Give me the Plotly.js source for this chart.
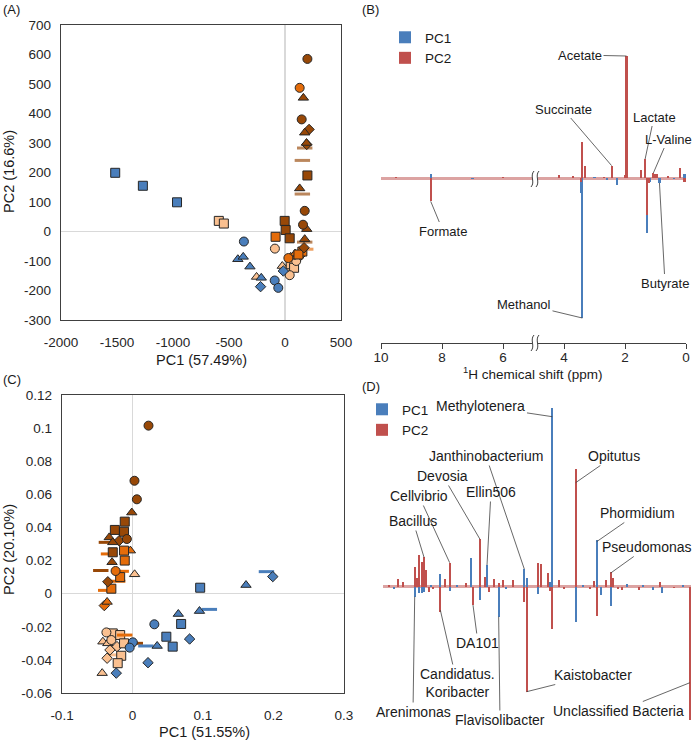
<!DOCTYPE html>
<html>
<head>
<meta charset="utf-8">
<script src="https://cdn.plot.ly/plotly-3.0.1.min.js"></script>
<style>body{margin:0;background:#fff}#plot{width:697px;height:741px}</style>
</head>
<body>
<div id="plot"></div>
<script>
// ---------- (A) NMR metabolite PCA scores ----------
// group: G1 blue, G2 dark brown, G3 orange, G4 peach ; set: S1 circle, S2 square, S3 triangle, S4 diamond, S5 dash
const aPC1 = [-1516, -1269, -964, -591, -546, -367, -92, -60, -421, -373,
              -313, -212, -254, -218, -90, -84, -3, 6, 42, 200,
              131, 164, 149, 176, 215, 194, 192, 176, 155, 155,
              200, 131, 176, 161, 194, 176, 176, 51, 155, 120,
              185, 90, 30, 42, 51, 81, -24, 10, -15, 100,
              140, 170]
const aPC2 = [199, 155, 99, 36, 27, -34, -166, -191, -94, -86,
              -119, -157, -154, -187, -58, -18, 36, 5, -23, 585,
              487, 453, 380, 335, 346, 295, 300, 283, 241, 127,
              190, 146, 70, 23, 8, -26, -36, -86, -68, -78,
              -60, -75, -90, -148, -111, -123, -117, -130, -134, -100,
              -80, -55]
const aGroup = ['G1','G1','G1','G4','G4','G1','G1','G1','G1','G1',
                'G1','G1','G4','G1','G4','G3','G2','G2','G2','G2',
                'G3','G2','G2','G2','G2','G2','G2','G2','G2','G2',
                'G2','G2','G2','G2','G2','G2','G2','G3','G3','G3',
                'G3','G3','G3','G4','G4','G4','G4','G4','G1','G4',
                'G3','G2']
const aSet = ['S2','S2','S2','S2','S2','S1','S1','S1','S3','S3',
              'S3','S3','S3','S4','S1','S2','S2','S2','S2','S1',
              'S1','S3','S1','S3','S4','S4','S3','S5','S5','S5',
              'S2','S3','S1','S1','S3','S3','S5','S3','S2','S2',
              'S5','S3','S1','S1','S2','S2','S3','S4','S4','S1',
              'S4','S4']

// ---------- (C) bacterial community PCA scores ----------
const cPC1 = [0.0227, 0.0028, 0.0062, -0.001, -0.011, -0.025, -0.012, -0.033, -0.028, -0.019,
              -0.008, -0.037, -0.028, -0.034, -0.012, -0.011, -0.003, -0.029, -0.045, -0.024,
              -0.0175, -0.016, -0.021, -0.035, -0.030, -0.038, 0.003, -0.040, -0.036, 0.096,
              0.161, 0.199, 0.19, 0.065, 0.095, 0.109, 0.031, 0.069, 0.048, 0.057,
              0.081, 0.035, 0.019, 0.004, 0.0005, -0.004, 0.022, -0.023, -0.037, -0.028,
              -0.0175, -0.042, -0.030, -0.022, -0.032, -0.011, -0.016, -0.021, -0.036, -0.026,
              -0.043, -0.035, -0.012]
const cPC2 = [0.1015, 0.0682, 0.057, 0.049, 0.0435, 0.0385, 0.0374, 0.034, 0.031, 0.032,
              0.033, 0.031, 0.025, 0.024, 0.026, 0.020, 0.026, 0.019, 0.014, 0.0137,
              0.010, 0.0135, 0.0075, 0.0072, 0.003, 0.002, 0.0117, -0.0072, -0.005, 0.0036,
              0.0052, 0.0103, 0.0133, -0.0123, -0.0105, -0.0095, -0.0185, -0.0183, -0.026, -0.032,
              -0.0274, -0.0316, -0.0316, -0.030, -0.0294, -0.0326, -0.0417, -0.048, -0.0234, -0.024,
              -0.025, -0.029, -0.028, -0.032, -0.034, -0.025, -0.0375, -0.042, -0.039, -0.037,
              -0.048, -0.030, -0.030]
const cGroup = ['G2','G2','G2','G2','G2','G2','G2','G2','G2','G2',
                'G2','G2','G2','G3','G3','G3','G3','G2','G2','G3',
                'G3','G3','G3','G2','G3','G3','G4','G3','G3','G1',
                'G1','G1','G1','G1','G1','G1','G1','G1','G1','G1',
                'G1','G1','G1','G2','G1','G1','G1','G1','G4','G4',
                'G4','G4','G4','G4','G4','G3','G4','G4','G4','G4',
                'G4','G4','G4']
const cSet = ['S1','S1','S1','S3','S2','S2','S2','S3','S3','S4',
              'S1','S5','S2','S5','S2','S2','S3','S3','S5','S1',
              'S2','S5','S5','S4','S2','S5','S3','S4','S3','S2',
              'S3','S4','S5','S3','S3','S5','S1','S2','S2','S2',
              'S4','S3','S5','S5','S1','S1','S4','S4','S1','S2',
              'S2','S3','S1','S4','S4','S5','S2','S2','S4','S5',
              'S3','S3','S2']

// ---------- (B) NMR loadings (ppm) ----------
const bShift = [9.5, 8.37, 7.0, 6.0, 4.15, 3.7, 3.44, 3.40, 3.30, 3.0,
                2.7, 2.6, 2.44, 2.27, 2.0, 1.95, 1.48, 1.34, 1.29, 1.22,
                1.18, 1.07, 1.02, 0.95, 0.87, 0.6, 0.4, 0.2, 0.05]
const bPC1 = [0, 0.02, -0.006, 0, 0, 0, -0.075, -0.70, 0, 0.006,
              0, -0.008, 0, -0.033, 0, 0.005, 0, 0, -0.275, 0,
              -0.02, 0, 0, 0, -0.025, 0, -0.006, 0, 0.02]
const bPC2 = [0.005, -0.117, 0, 0.005, 0.017, 0.008, -0.02, 0.178, 0.058, 0,
              0.006, 0, 0.062, 0, 0.013, 0.61, 0.04, 0.095, -0.183, -0.025,
              0, 0.025, 0.022, 0.018, 0, 0.008, 0, 0.05, -0.02]
const bTickVals = [10, 8, 6, 4, 2, 0]

// ---------- (D) genus loadings (taxon position) ----------
const dPos = [2, 4, 6, 8, 13, 14, 15, 16, 17, 18,
              19, 20, 21, 24, 26, 28, 31, 35, 37, 38,
              41, 43, 44, 45, 47, 49, 51, 52, 55, 60,
              61, 66, 67, 70, 71, 72, 75, 77, 82, 85,
              88, 90, 91, 93, 95, 97, 98, 100, 102, 104,
              109, 111, 115, 118, 119, 124, 128, 131]
const dPC1 = [0, -0.01, 0, 0, -0.05, 0, -0.03, -0.03, -0.025, 0,
              0, 0.01, 0, 0.063, 0, -0.02, 0.01, 0, 0.145, 0,
              -0.067, 0, 0.108, 0, 0, -0.15, 0, -0.01, 0, 0.088,
              0.042, -0.037, 0, 0, 0.022, 0.895, 0, 0, -0.178, 0.01,
              0, 0, 0.233, -0.042, 0, -0.097, 0, 0, 0, 0.012,
              0, 0.008, -0.017, 0, -0.03, 0, 0.008, 0]
const dPC2 = [0.01, 0, 0.037, 0.025, 0.097, 0.042, 0.158, 0.125, 0.147, 0.083,
              -0.025, 0, -0.01, -0.125, 0.037, 0.12, 0, 0.017, 0, -0.092,
              0.237, 0.047, 0, -0.025, 0.037, 0.017, 0.033, 0, 0.033, -0.075,
              -0.525, 0.12, 0.112, 0.07, -0.02, -0.213, 0.033, -0.01, 0.588, 0,
              -0.012, 0.028, -0.147, 0, 0.033, 0.075, 0.042, -0.01, -0.015, 0,
              -0.017, 0, 0, 0.022, 0, -0.008, 0, -0.667]

const aTicksX = [-2000, -1500, -1000, -500, 0, 500]
const aTicksY = [-300, -200, -100, 0, 100, 200, 300, 400, 500, 600, 700]
const cTicksX = [-0.1, 0, 0.1, 0.2, 0.3]
const cTicksY = [-0.06, -0.04, -0.02, 0, 0.02, 0.04, 0.06, 0.08, 0.1, 0.12]

// ---------- styling ----------
const W = 697, H = 741
const fx = p => p / W
const fy = p => 1 - p / H
const COL = {G1: '#4a7ebb', G2: '#984807', G3: '#e46c0a', G4: '#fac090'}
const SYM = {S1: 'circle', S2: 'square', S3: 'triangle-up', S4: 'diamond', S5: 'line-ew'}
const BLUE = '#4a7ebb', RED = '#c0504d'
const FONT = 'Liberation Sans, Arial, sans-serif'

// loading panels: pixel frame used for both axes and label leaders
const PB = {x0: 381, x1: 686, r0: 10, r1: 0, zero: 178, ppu: 200, top: 35, bot: 330}
const PD = {x0: 383.2, x1: 691.1, r0: -0.5, r1: 131.5, zero: 586.7, ppu: 200, top: 400, bot: 725}
const toPx = (P, v) => P.x0 + (v - P.r0) / (P.r1 - P.r0) * (P.x1 - P.x0)
const toPy = (P, v) => P.zero - v * P.ppu

function scoreTraces(pc1, pc2, grp, set, xa, ya, dashOp) {
    let traces = []
    ;['G4', 'G3', 'G2', 'G1'].forEach(g => {
        ;['S5', 'S4', 'S3', 'S2', 'S1'].forEach(s => {
            let x = [], y = []
            for (let i = 0; i < pc1.length; i++) {
                if (grp[i] === g && set[i] === s) { x.push(pc1[i]); y.push(pc2[i]) }
            }
            if (!x.length) return
            let dash = s === 'S5'
            traces.push({
                type: 'scatter', mode: 'markers', x: x, y: y, xaxis: xa, yaxis: ya,
                showlegend: false, hoverinfo: 'skip',
                marker: {
                    symbol: SYM[s], color: COL[g], opacity: dash ? dashOp : 1,
                    size: dash ? 11 : (s === 'S4' ? 8 : 9),
                    line: {color: dash ? COL[g] : '#262626', width: dash ? 3 : 1}
                }
            })
        })
    })
    return traces
}

function barTraces(x, pc1, pc2, xa, ya, w, leg) {
    return [
        {type: 'bar', name: 'PC1', x: x, y: pc1, xaxis: xa, yaxis: ya, width: w,
         marker: {color: BLUE, line: {width: 0}}, legend: leg, hoverinfo: 'skip'},
        {type: 'bar', name: 'PC2', x: x, y: pc2, xaxis: xa, yaxis: ya, width: w,
         marker: {color: RED, line: {width: 0}}, legend: leg, hoverinfo: 'skip'}
    ]
}

let data = []
    .concat(scoreTraces(aPC1, aPC2, aGroup, aSet, 'x', 'y', 0.65))
    .concat(barTraces(bShift, bPC1, bPC2, 'x2', 'y2', 0.07, 'legend'))
    .concat(scoreTraces(cPC1, cPC2, cGroup, cSet, 'x3', 'y3', 1))
    .concat(barTraces(dPos, dPC1, dPC2, 'x4', 'y4', 0.8, 'legend2'))

// score-plot axis template
function scoreAxis(dom, range, ticks, anchor, standoff) {
    return {
        domain: dom, range: range, anchor: anchor,
        tickvals: ticks, ticktext: ticks.map(String), ticks: '',
        tickfont: {size: 13.5, color: '#262626'}, ticklabelstandoff: standoff,
        showline: true, mirror: true, linecolor: '#404040', linewidth: 1.3,
        showgrid: false, zeroline: true, zerolinecolor: '#d9d9d9', zerolinewidth: 1.5
    }
}

// text labels with leader lines
function leader(P, xa, ya, text, xv, yv, tx, ty, size) {
    return {
        xref: xa, yref: ya, x: xv, y: yv, text: text,
        ax: tx - toPx(P, xv), ay: ty - toPy(P, yv),
        showarrow: true, arrowhead: 0, arrowwidth: 0.8, arrowcolor: '#404040',
        font: {size: size, color: '#1a1a1a'}
    }
}
function note(text, px, py, opts) {
    return Object.assign({xref: 'paper', yref: 'paper', x: fx(px), y: fy(py), text: text,
        xanchor: 'center', yanchor: 'middle',
        showarrow: false, font: {size: 14, color: '#1a1a1a'}}, opts || {})
}

let annotations = [
    note('(A)', 1, 0, {xanchor: 'left', yanchor: 'top', font: {size: 13}}),
    note('(B)', 360, 0, {xanchor: 'left', yanchor: 'top', font: {size: 13}}),
    note('(C)', 1, 370, {xanchor: 'left', yanchor: 'top', font: {size: 13}}),
    note('(D)', 360, 377, {xanchor: 'left', yanchor: 'top', font: {size: 13}}),
    note('PC1 (57.49%)', 201, 360, {font: {size: 14.5, color: '#1a1a1a'}}),
    note('PC2 (16.6%)', 9, 172, {textangle: -90, font: {size: 14.5, color: '#1a1a1a'}}),
    note('PC1 (51.55%)', 204, 732, {font: {size: 14.5, color: '#1a1a1a'}}),
    note('PC2 (20.10%)', 9, 550, {textangle: -90, font: {size: 14.5, color: '#1a1a1a'}}),
    note('<sup>1</sup>H chemical shift (ppm)', 533, 373, {font: {size: 13.5, color: '#1a1a1a'}}),
    // (B) metabolites
    leader(PB, 'x2', 'y2', 'Acetate', 1.95, 0.61, 580, 55, 13),
    leader(PB, 'x2', 'y2', 'Succinate', 2.44, 0.062, 563, 109, 13),
    leader(PB, 'x2', 'y2', 'Lactate', 1.34, 0.095, 654, 117, 13),
    leader(PB, 'x2', 'y2', 'L-Valine', 1.07, 0.025, 668, 139, 13),
    leader(PB, 'x2', 'y2', 'Formate', 8.37, -0.117, 443, 231, 13),
    leader(PB, 'x2', 'y2', 'Butyrate', 0.87, -0.025, 665, 283, 13),
    leader(PB, 'x2', 'y2', 'Methanol', 3.40, -0.70, 524, 304, 13),
    // (D) genera
    leader(PD, 'x4', 'y4', 'Methylotenera', 72, 0.85, 481, 406, 14),
    leader(PD, 'x4', 'y4', 'Janthinobacterium', 60, 0.088, 486, 456, 14),
    leader(PD, 'x4', 'y4', 'Opitutus', 82, 0.52, 614, 456, 14),
    leader(PD, 'x4', 'y4', 'Devosia', 41, 0.237, 443, 476, 14),
    leader(PD, 'x4', 'y4', 'Ellin506', 44, 0.108, 491, 492, 14),
    leader(PD, 'x4', 'y4', 'Cellvibrio', 28, 0.12, 419, 496, 14),
    leader(PD, 'x4', 'y4', 'Bacillus', 17, 0.147, 413, 521, 14),
    leader(PD, 'x4', 'y4', 'Phormidium', 91, 0.225, 638, 513, 14),
    leader(PD, 'x4', 'y4', 'Pseudomonas', 97, 0.068, 647, 547, 14),
    leader(PD, 'x4', 'y4', 'DA101', 38, -0.092, 478, 643, 14),
    leader(PD, 'x4', 'y4', 'Candidatus.<br>Koribacter', 24, -0.117, 457, 683, 14),
    leader(PD, 'x4', 'y4', 'Kaistobacter', 61, -0.525, 593, 675, 14),
    leader(PD, 'x4', 'y4', 'Arenimonas', 13, -0.05, 413, 712, 14),
    leader(PD, 'x4', 'y4', 'Flavisolibacter', 49, -0.15, 500, 720, 14),
    leader(PD, 'x4', 'y4', 'Unclassified Bacteria', 131, -0.48, 619, 711, 14)
]

// axis break marks in (B)
function brk(cx, cy) {
    let s = [{type: 'rect', xref: 'paper', yref: 'paper', x0: fx(cx - 3), x1: fx(cx + 3),
              y0: fy(cy + 3), y1: fy(cy - 3), fillcolor: '#ffffff', line: {width: 0}}]
    ;[-2.5, 2.5].forEach(d => {
        s.push({type: 'path', xref: 'paper', yref: 'paper', line: {color: '#404040', width: 1},
            path: 'M' + fx(cx + d - 1.5) + ',' + fy(cy + 8) +
                  ' C' + fx(cx + d + 3) + ',' + fy(cy + 3) + ' ' + fx(cx + d - 3) + ',' + fy(cy - 3) +
                  ' ' + fx(cx + d + 1.5) + ',' + fy(cy - 8)})
    })
    return s
}

let layout = {
    width: W, height: H,
    margin: {l: 0, r: 0, t: 0, b: 0},
    paper_bgcolor: '#ffffff', plot_bgcolor: 'rgba(0,0,0,0)',
    font: {family: FONT, size: 13, color: '#1a1a1a'},
    barmode: 'overlay', bargap: 0,
    xaxis: scoreAxis([fx(61), fx(341)], [-2000, 500], aTicksX, 'y', 9),
    yaxis: scoreAxis([fy(320), fy(25)], [-300, 700], aTicksY, 'x', 6),
    xaxis3: scoreAxis([fx(62), fx(344)], [-0.1, 0.3], cTicksX, 'y3', 9),
    yaxis3: scoreAxis([fy(693), fy(395)], [-0.06, 0.12], cTicksY, 'x3', 6),
    xaxis2: {
        domain: [fx(PB.x0), fx(PB.x1)], range: [PB.r0, PB.r1], anchor: 'free', position: fy(343),
        tickvals: bTickVals, ticktext: bTickVals.map(String), ticks: 'outside', ticklen: 5,
        tickcolor: '#404040', tickfont: {size: 13.5, color: '#262626'}, ticklabelstandoff: -3,
        showline: true, linecolor: '#404040', linewidth: 1, showgrid: false, zeroline: false
    },
    yaxis2: {
        domain: [fy(PB.bot), fy(PB.top)],
        range: [-(PB.bot - PB.zero) / PB.ppu, (PB.zero - PB.top) / PB.ppu],
        anchor: 'x2', showticklabels: false, ticks: '', showgrid: false, showline: false,
        zeroline: true, zerolinecolor: '#dca3a2', zerolinewidth: 3
    },
    xaxis4: {
        domain: [fx(PD.x0), fx(PD.x1)], range: [PD.r0, PD.r1], anchor: 'y4', visible: false
    },
    yaxis4: {
        domain: [fy(PD.bot), fy(PD.top)],
        range: [-(PD.bot - PD.zero) / PD.ppu, (PD.zero - PD.top) / PD.ppu],
        anchor: 'x4', showticklabels: false, ticks: '', showgrid: false, showline: false,
        zeroline: true, zerolinecolor: '#dca3a2', zerolinewidth: 3
    },
    legend: {x: fx(385), y: fy(22), xanchor: 'left', yanchor: 'top', bgcolor: 'rgba(0,0,0,0)',
             font: {size: 13.5}, tracegroupgap: 0, itemwidth: 30},
    legend2: {x: fx(362), y: fy(394), xanchor: 'left', yanchor: 'top', bgcolor: 'rgba(0,0,0,0)',
              font: {size: 13.5}, tracegroupgap: 0, itemwidth: 30},
    annotations: annotations,
    shapes: brk(535, 179).concat(brk(535, 343))
}

Plotly.newPlot('plot', data, layout, {displayModeBar: false, staticPlot: true})
</script>
</body>
</html>
